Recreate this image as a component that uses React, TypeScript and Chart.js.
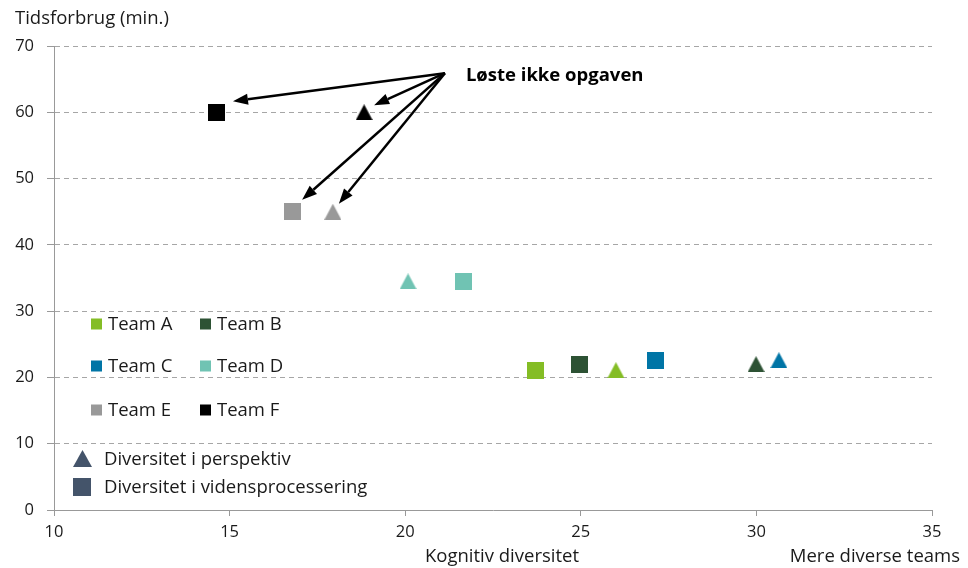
import React, { useEffect, useRef } from "react";
import { Chart, registerables } from "chart.js";
Chart.register(...registerables);

const teams = ["Team A", "Team B", "Team C", "Team D", "Team E", "Team F"];
const teamColors = ["#84bd25", "#2d5234", "#0075a6", "#70c3b3", "#999999", "#000000"];
const perspektivX = [26.0, 29.99, 30.64, 20.08, 17.94, 18.83];
const perspektivY = [21.1, 22.0, 22.6, 34.5, 45.0, 60.0];
const videnX = [23.7, 24.95, 27.14, 21.67, 16.78, 14.64];
const videnY = [21.1, 22.0, 22.5, 34.5, 45.0, 60.0];
const xTicks = [10, 15, 20, 25, 30, 35];
const yTicks = [0, 10, 20, 30, 40, 50, 60, 70];
const seriesNames = ["Diversitet i perspektiv", "Diversitet i vidensprocessering"];
const unsolvedTeams = ["Team F", "Team E"];
const annotationText = "Løste ikke opgaven";
const annotationAnchorX = [21.13];
const annotationAnchorY = [65.9];
const yTitle = "Tidsforbrug (min.)";
const xTitle = "Kognitiv diversitet";
const xNote = "Mere diverse teams";

const FONT = "'Open Sans', 'Noto Sans', sans-serif";
const TEXT = "#1a1a1a";
const SHAPE = "#44546a";
const TXT_SIZE = 18.5;

function makeMarker(shape: string, color: string, w: number, h: number) {
  const c = document.createElement("canvas");
  c.width = w;
  c.height = h;
  const g = c.getContext("2d")!;
  g.fillStyle = color;
  if (shape === "tri") {
    g.beginPath();
    g.moveTo(w / 2, 0);
    g.lineTo(w, h);
    g.lineTo(0, h);
    g.closePath();
    g.fill();
  } else {
    g.fillRect(0, 0, w, h);
  }
  return c;
}

function arrow(ctx: CanvasRenderingContext2D, x0: number, y0: number, x1: number, y1: number) {
  const ang = Math.atan2(y1 - y0, x1 - x0);
  const len = 15;
  const hw = 5.5;
  const bx = x1 - Math.cos(ang) * len;
  const by = y1 - Math.sin(ang) * len;
  ctx.beginPath();
  ctx.moveTo(x0, y0);
  ctx.lineTo(bx, by);
  ctx.stroke();
  ctx.beginPath();
  ctx.moveTo(x1, y1);
  ctx.lineTo(bx + Math.sin(ang) * hw, by - Math.cos(ang) * hw);
  ctx.lineTo(bx - Math.sin(ang) * hw, by + Math.cos(ang) * hw);
  ctx.closePath();
  ctx.fill();
}

const overlay = {
  id: "overlay",
  afterDraw(chart: any) {
    const ctx = chart.ctx as CanvasRenderingContext2D;
    const xs = chart.scales.x;
    const ys = chart.scales.y;
    ctx.save();
    // titles
    ctx.fillStyle = TEXT;
    ctx.font = `${TXT_SIZE}px ${FONT}`;
    ctx.textBaseline = "middle";
    ctx.textAlign = "left";
    ctx.fillText(yTitle, 15, 19);
    ctx.textAlign = "center";
    ctx.fillText(xTitle, 502, 557);
    ctx.textAlign = "right";
    ctx.fillText(xNote, 960, 557);

    // annotation arrows
    const ax = xs.getPixelForValue(annotationAnchorX[0]);
    const ay = ys.getPixelForValue(annotationAnchorY[0]);
    ctx.strokeStyle = "#000";
    ctx.fillStyle = "#000";
    ctx.lineWidth = 2.5;
    const tipOffsets: Record<string, number[][]> = {
      "Team F": [[10, -7], [16, -11]],
      "Team E": [[6, -8], [10, -12]],
    };
    unsolvedTeams.forEach((t) => {
      const i = teams.indexOf(t);
      const off = tipOffsets[t];
      const px = [xs.getPixelForValue(perspektivX[i]), ys.getPixelForValue(perspektivY[i])];
      const vx = [xs.getPixelForValue(videnX[i]), ys.getPixelForValue(videnY[i])];
      arrow(ctx, ax, ay, px[0] + off[0][0], px[1] + off[0][1]);
      arrow(ctx, ax, ay, vx[0] + off[1][0], vx[1] + off[1][1]);
    });
    ctx.font = `bold ${TXT_SIZE}px ${FONT}`;
    ctx.textAlign = "left";
    ctx.fillStyle = "#000";
    ctx.fillText(annotationText, ax + 21, ay + 3);

    // legend teams
    ctx.font = `${TXT_SIZE}px ${FONT}`;
    const rows = [324, 366, 410];
    const cols = [[91, 108], [200, 217]];
    teams.forEach((t, i) => {
      const r = Math.floor(i / 2);
      const c = i % 2;
      ctx.fillStyle = teamColors[i];
      ctx.fillRect(cols[c][0], rows[r] - 5.5, 11, 11);
      ctx.fillStyle = TEXT;
      ctx.fillText(t, cols[c][1], rows[r] + 1);
    });
    // legend shapes
    ctx.fillStyle = SHAPE;
    ctx.beginPath();
    ctx.moveTo(82.5, 450);
    ctx.lineTo(92, 467);
    ctx.lineTo(73, 467);
    ctx.closePath();
    ctx.fill();
    ctx.fillRect(73, 478, 18, 18);
    ctx.fillStyle = TEXT;
    ctx.fillText(seriesNames[0], 104, 460);
    ctx.fillText(seriesNames[1], 104, 488);
    ctx.restore();
  },
};

export default function App() {
  const ref = useRef<HTMLCanvasElement>(null);
  useEffect(() => {
    const triStyles = teamColors.map((c) => makeMarker("tri", c, 17, 16));
    const sqStyles = teamColors.map((c) => makeMarker("sq", c, 17, 17));
    const chart = new Chart(ref.current!, {
      type: "scatter",
      data: {
        datasets: [
          {
            label: seriesNames[1],
            data: videnX.map((x, i) => ({ x, y: videnY[i] })),
            pointStyle: sqStyles as any,
            backgroundColor: teamColors,
            borderColor: teamColors,
          },
          {
            label: seriesNames[0],
            data: perspektivX.map((x, i) => ({ x, y: perspektivY[i] })),
            pointStyle: triStyles as any,
            backgroundColor: teamColors,
            borderColor: teamColors,
          },
        ],
      },
      options: {
        responsive: false,
        animation: false,
        layout: { padding: { top: 46, right: 36, bottom: 0, left: 0 } },
        plugins: { legend: { display: false }, tooltip: { enabled: false } },
        scales: {
          x: {
            type: "linear",
            min: 10,
            max: 35,
            afterBuildTicks: (s: any) => {
              s.ticks = xTicks.map((v) => ({ value: v }));
            },
            afterFit: (s: any) => {
              s.height = 58;
            },
            ticks: { color: TEXT, font: { family: FONT, size: 16.5 }, padding: 6, maxRotation: 0 },
            grid: { display: true, drawOnChartArea: false, drawTicks: true, tickLength: 6, color: "#999", tickColor: "#999" },
            border: { display: true, color: "#999", width: 1 },
          },
          y: {
            type: "linear",
            min: 0,
            max: 70,
            afterBuildTicks: (s: any) => {
              s.ticks = yTicks.map((v) => ({ value: v }));
            },
            afterFit: (s: any) => {
              s.width = 54;
            },
            ticks: { color: TEXT, font: { family: FONT, size: 16.5 }, padding: 13 },
            grid: { color: "#a6a6a6", tickColor: "#999", tickLength: 7, tickBorderDash: [] },
            border: { display: true, color: "#999", width: 1, dash: [5, 4] },
          },
        },
      },
      plugins: [overlay],
    } as any);
    return () => chart.destroy();
  }, []);
  return (
    <div style={{ position: "fixed", left: 0, top: 0, width: 968, height: 568, background: "#fff" }}>
      <canvas ref={ref} width={968} height={568} />
    </div>
  );
}
